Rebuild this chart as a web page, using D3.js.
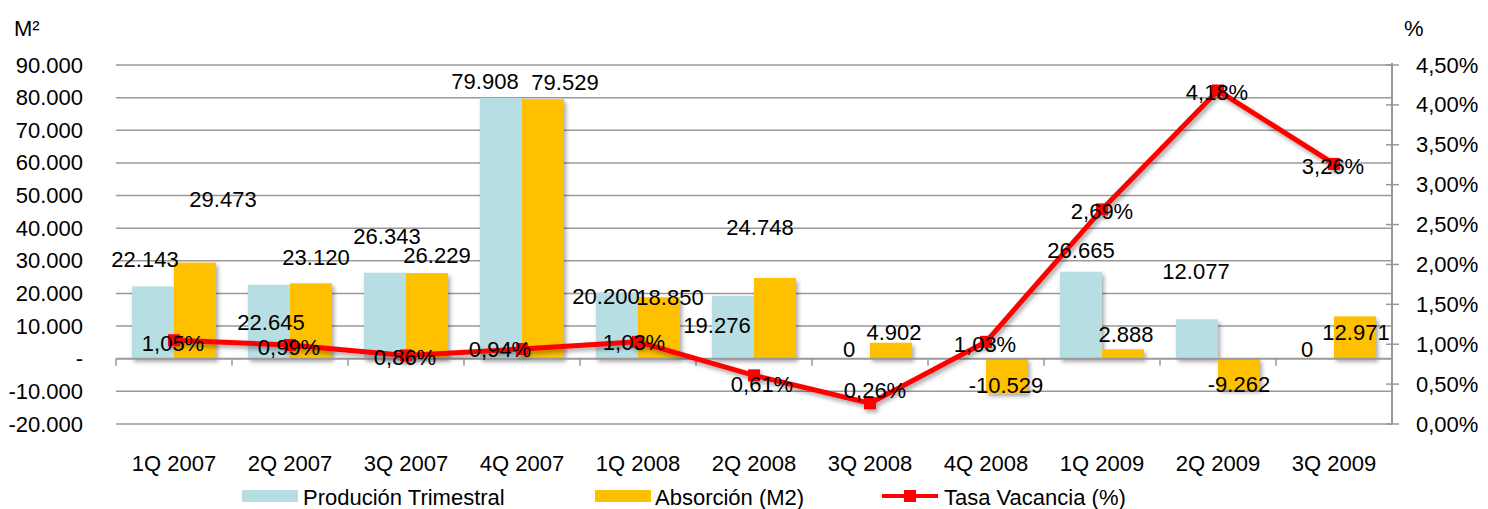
<!DOCTYPE html>
<html>
<head>
<meta charset="utf-8">
<script src="https://cdn.jsdelivr.net/npm/d3@7"></script>
<style>
  body { margin: 0; background: #fff; }
  svg { display: block; font-family: "Liberation Sans", Arial, sans-serif; }
</style>
</head>
<body>
<svg></svg>
<script>
var categories = ["1Q 2007", "2Q 2007", "3Q 2007", "4Q 2007", "1Q 2008", "2Q 2008",
                  "3Q 2008", "4Q 2008", "1Q 2009", "2Q 2009", "3Q 2009"];
var produccion = [22143, 22645, 26343, 79908, 20200, 19276, 0, 0, 26665, 12077, 0];
var absorcion = [29473, 23120, 26229, 79529, 18850, 24748, 4902, -10529, 2888, -9262, 12971];
var vacancia = [1.05, 0.99, 0.86, 0.94, 1.03, 0.61, 0.26, 1.03, 2.69, 4.18, 3.26];
var leftTicks = [-20000, -10000, 0, 10000, 20000, 30000, 40000, 50000, 60000, 70000, 80000, 90000];
var rightTicks = [0, 0.5, 1, 1.5, 2, 2.5, 3, 3.5, 4, 4.5];
var seriesNames = ["Produción Trimestral", "Absorción (M2)", "Tasa Vacancia (%)"];

// label nudges (px) the way excel left them, relative to bar end / point
var prodLabelPos = [[-8,-27],[2,38],[2,-36],[-16,-16],[-11,4],[-16,30],[0,-9],null,[0,-21],[-1,-48],[-6,-9]];
var absLabelPos = [[28,-63],[5,-26],[10,-18],[22,-17],[11,0],[-15,-50],[3,-10],[-1,-8],[3,-15],[0,-4],[1,16]];
var vacLabelPos = [[-1,3],[-1,2],[-1,2],[-22,0],[-4,1],[8,9],[5,-13],[-1,3],[0,2],[-1,2],[-1,3]];

var svgWidth = 1488, svgHeight = 509;
var plotLeft = 116, plotRight = 1392, plotTop = 65, plotBottom = 424;
var cyan = "#b7dee2", orange = "#ffc000", red = "#ff0000", grid = "#999";

var locale = d3.formatLocale({decimal: ",", thousands: ".", grouping: [3], currency: ["", ""], minus: "-"});
var fmtNum = locale.format(",.0f");
var fmtPct = locale.format(".2f");

var svg = d3.select("svg")
    .attr("width", svgWidth)
    .attr("height", svgHeight);

var defs = svg.append("defs");
defs.append("filter").attr("id", "shadow")
    .attr("x", "-20%").attr("y", "-20%").attr("width", "150%").attr("height", "150%")
  .append("feDropShadow")
    .attr("dx", 2).attr("dy", 3).attr("stdDeviation", 2)
    .attr("flood-color", "#000").attr("flood-opacity", 0.35);

var x = d3.scaleBand().domain(categories).range([plotLeft, plotRight]);
var xs = d3.scaleBand().domain([0, 1]).range([16, 100]);
var yL = d3.scaleLinear().domain([-20000, 90000]).range([plotBottom, plotTop]);
var yR = d3.scaleLinear().domain([0, 4.5]).range([plotBottom, plotTop]);

// gridlines
svg.append("g").selectAll("line")
    .data(leftTicks.filter(function(d){ return d !== 0; }))
    .enter().append("line")
    .attr("x1", plotLeft).attr("x2", plotRight)
    .attr("y1", function(d){ return yL(d); })
    .attr("y2", function(d){ return yL(d); })
    .attr("stroke", grid).attr("stroke-width", 1.5);

// left axis labels
svg.append("g").selectAll("text")
    .data(leftTicks)
    .enter().append("text")
    .attr("x", 83)
    .attr("y", function(d){ return yL(d); })
    .attr("text-anchor", "end")
    .attr("dominant-baseline", "central")
    .attr("font-size", 22)
    .text(function(d){ return d === 0 ? "-" : fmtNum(d); });

// right axis
var gR = svg.append("g");
gR.append("line")
    .attr("x1", plotRight).attr("x2", plotRight)
    .attr("y1", plotTop - 2).attr("y2", plotBottom)
    .attr("stroke", grid).attr("stroke-width", 2);
gR.selectAll("line.tick")
    .data(rightTicks)
    .enter().append("line")
    .attr("class", "tick")
    .attr("x1", plotRight - 6).attr("x2", plotRight + 7)
    .attr("y1", function(d){ return yR(d); })
    .attr("y2", function(d){ return yR(d); })
    .attr("stroke", grid).attr("stroke-width", 1.5);
gR.selectAll("text")
    .data(rightTicks)
    .enter().append("text")
    .attr("x", 1416)
    .attr("y", function(d){ return yR(d); })
    .attr("dominant-baseline", "central")
    .attr("font-size", 22)
    .text(function(d){ return fmtPct(d) + "%"; });

// axis titles
svg.append("text").attr("x", 14).attr("y", 36).attr("font-size", 22).text("M²");
svg.append("text").attr("x", 1404).attr("y", 36).attr("font-size", 22).text("%");

// bars
var bars = svg.append("g").attr("filter", "url(#shadow)");
function drawBars(values, idx, color) {
    bars.selectAll("rect.s" + idx)
        .data(values)
        .enter().append("rect")
        .attr("class", "s" + idx)
        .attr("x", function(d, i){ return x(categories[i]) + xs(idx); })
        .attr("width", xs.bandwidth())
        .attr("y", function(d){ return yL(Math.max(0, d)); })
        .attr("height", function(d){ return Math.abs(yL(d) - yL(0)); })
        .attr("fill", color);
}
drawBars(produccion, 0, cyan);
drawBars(absorcion, 1, orange);

// x axis at zero
var gX = svg.append("g");
gX.append("line")
    .attr("x1", plotLeft).attr("x2", plotRight)
    .attr("y1", yL(0)).attr("y2", yL(0))
    .attr("stroke", grid).attr("stroke-width", 2);
gX.selectAll("line.tick")
    .data(categories.concat(["end"]))
    .enter().append("line")
    .attr("class", "tick")
    .attr("x1", function(d, i){ return plotLeft + i * x.bandwidth(); })
    .attr("x2", function(d, i){ return plotLeft + i * x.bandwidth(); })
    .attr("y1", yL(0)).attr("y2", yL(0) + 7)
    .attr("stroke", grid).attr("stroke-width", 1.5);
gX.selectAll("text")
    .data(categories)
    .enter().append("text")
    .attr("x", function(d){ return x(d) + x.bandwidth() / 2; })
    .attr("y", 463)
    .attr("text-anchor", "middle")
    .attr("dominant-baseline", "central")
    .attr("font-size", 22)
    .text(function(d){ return d; });

// vacancy line
var cx = function(d, i){ return x(categories[i]) + x.bandwidth() / 2; };
var line = d3.line()
    .x(cx)
    .y(function(d){ return yR(d); });
var gL = svg.append("g").attr("filter", "url(#shadow)");
gL.append("path")
    .datum(vacancia)
    .attr("d", line)
    .attr("fill", "none")
    .attr("stroke", red)
    .attr("stroke-width", 5)
    .attr("stroke-linejoin", "round");
gL.selectAll("rect")
    .data(vacancia)
    .enter().append("rect")
    .attr("x", function(d, i){ return cx(d, i) - 6; })
    .attr("y", function(d){ return yR(d) - 6; })
    .attr("width", 12).attr("height", 12)
    .attr("fill", red);

// data labels
var labels = svg.append("g")
    .attr("font-size", 22)
    .attr("text-anchor", "middle")
    .attr("dominant-baseline", "central");
function barLabels(values, idx, pos) {
    values.forEach(function(d, i){
        if (!pos[i]) return;
        var bx = x(categories[i]) + xs(idx) + xs.bandwidth() / 2;
        labels.append("text")
            .attr("x", bx + pos[i][0])
            .attr("y", yL(d) + pos[i][1])
            .text(fmtNum(d));
    });
}
barLabels(produccion, 0, prodLabelPos);
barLabels(absorcion, 1, absLabelPos);
vacancia.forEach(function(d, i){
    labels.append("text")
        .attr("x", cx(d, i) + vacLabelPos[i][0])
        .attr("y", yR(d) + vacLabelPos[i][1])
        .text(fmtPct(d) + "%");
});

// legend
var legend = svg.append("g").attr("font-size", 22);
var lg = [{x: 242, t: 303}, {x: 595, t: 655}, {x: 882, t: 944}];
legend.append("rect").attr("x", lg[0].x).attr("y", 490).attr("width", 56).attr("height", 12).attr("fill", cyan);
legend.append("rect").attr("x", lg[1].x).attr("y", 490).attr("width", 56).attr("height", 12).attr("fill", orange);
legend.append("line").attr("x1", lg[2].x).attr("x2", lg[2].x + 56)
    .attr("y1", 496).attr("y2", 496).attr("stroke", red).attr("stroke-width", 4);
legend.append("rect").attr("x", lg[2].x + 22).attr("y", 490).attr("width", 12).attr("height", 12).attr("fill", red);
legend.selectAll("text")
    .data(seriesNames)
    .enter().append("text")
    .attr("x", function(d, i){ return lg[i].t; })
    .attr("y", 497)
    .attr("dominant-baseline", "central")
    .text(function(d){ return d; });
</script>
</body>
</html>
